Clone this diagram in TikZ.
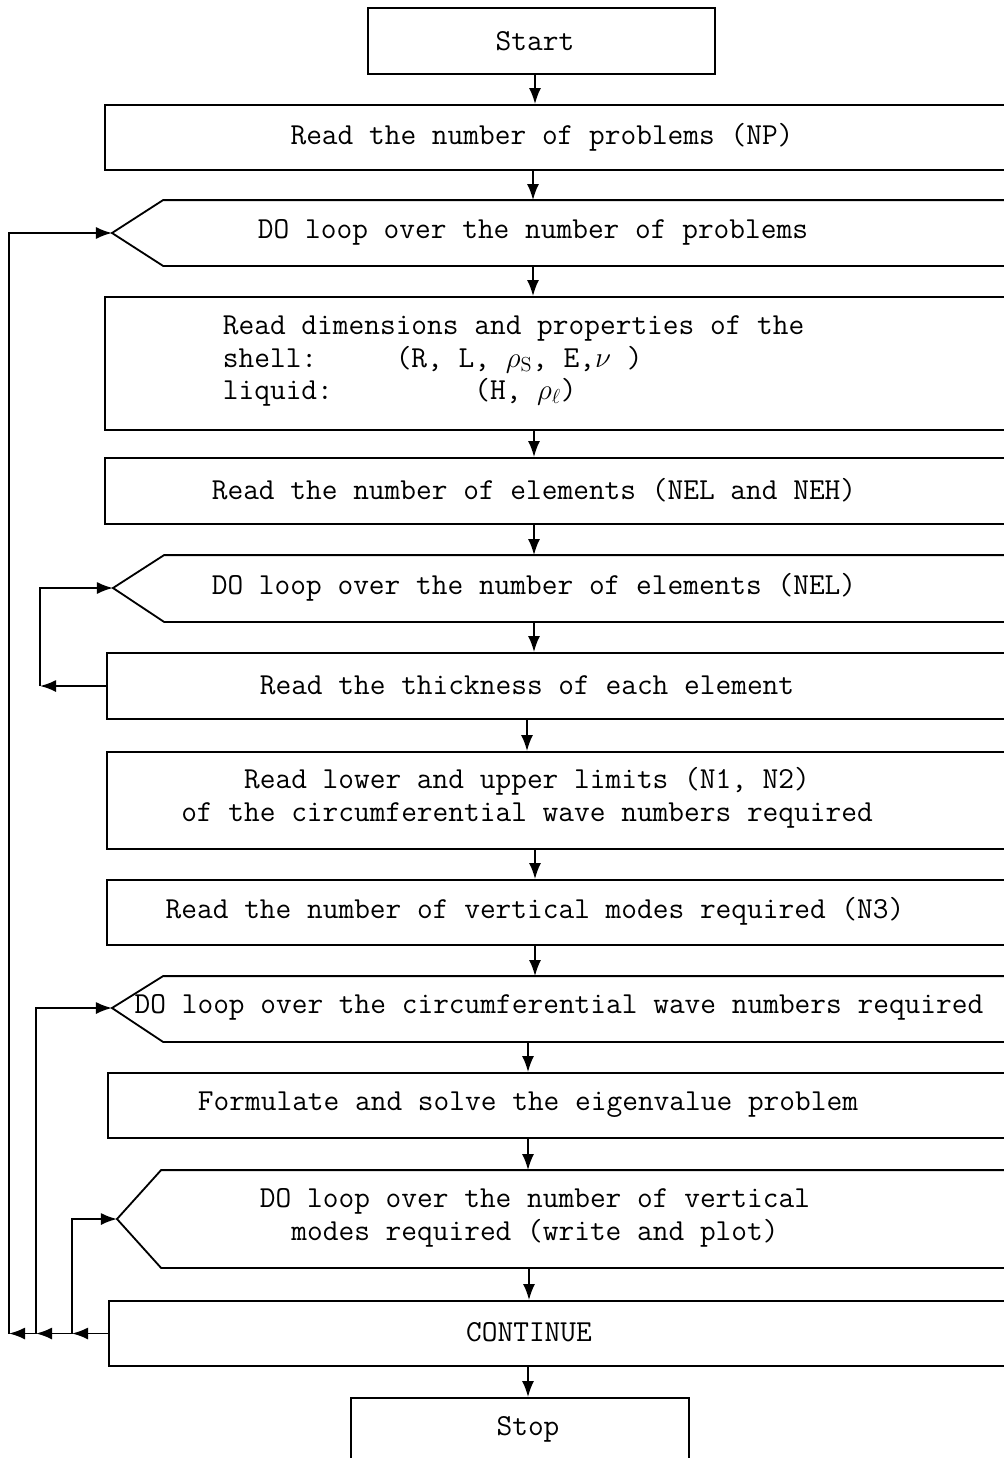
\documentclass[tikz,border=0pt]{standalone}
\usepackage{amsmath,amssymb}
\usetikzlibrary{arrows.meta,fit}

\begin{document}
\begin{tikzpicture}[x=0.025cm,y=-0.025cm,line width=1.3pt,
  >={Latex[length=4mm,width=3mm]},
  every node/.style={font=\fontsize{21.7}{23.1}\selectfont\ttfamily},
  frame/.style={draw,inner sep=0pt},
  area/.style={inner sep=0pt},
  txt/.style={inner sep=0pt,align=center}]
\useasboundingbox (0,0) rectangle (1004,1458);
\clip (0,0) rectangle (1004,1458);
% boxes
\node[frame,fit={(368,8) (715,74)}] (start) {};
\node[frame,fit={(105,105) (1040,170)}] (np) {};
\node[area,fit={(164,201) (1040,265)}] (do1) {};
\coordinate (do1tip) at (112,233);
\draw (do1.north east) -- (do1.north west) -- (do1tip) -- (do1.south west) -- (do1.south east);
\node[frame,fit={(105,297) (1040,430)}] (dims) {};
\node[frame,fit={(105,458) (1040,524)}] (nel) {};
\node[area,fit={(165,556) (1040,621)}] (do2) {};
\coordinate (do2tip) at (113,588);
\draw (do2.north east) -- (do2.north west) -- (do2tip) -- (do2.south west) -- (do2.south east);
\node[frame,fit={(107,653) (1040,719)}] (thick) {};
\node[frame,fit={(107,752) (1040,849)}] (lim) {};
\node[frame,fit={(107,880) (1040,945)}] (nthree) {};
\node[area,fit={(164,977) (1040,1041)}] (do3) {};
\coordinate (do3tip) at (112,1008);
\draw (do3.north east) -- (do3.north west) -- (do3tip) -- (do3.south west) -- (do3.south east);
\node[frame,fit={(108,1073) (1040,1138)}] (form) {};
\node[area,fit={(162,1171) (1040,1267)}] (do4) {};
\coordinate (do4tip) at (117,1219);
\draw (do4.north east) -- (do4.north west) -- (do4tip) -- (do4.south west) -- (do4.south east);
\node[frame,fit={(109,1301) (1040,1366)}] (cont) {};
\node[frame,fit={(351,1398) (689,1480)}] (stop) {};
% texts
\node[txt] (start-t) at (535,41) {Start};
\node[txt] (np-t) at (542,137) {Read the number of problems (NP)};
\node[txt] (do1-t) at (533,232) {DO loop over the number of problems};
\node[txt,anchor=west,align=left] (dims-t) at (222,361) {Read dimensions and properties of the\\
shell:\ \ \ \ \ (R, L, $\rho_{\mathrm{S}}$, E,$\nu$ )\\
liquid:\ \ \ \ \ \ \ \ \ (H, $\rho_\ell$)};
\node[txt] (nel-t) at (534,490) {Read the number of elements (NEL and NEH)};
\node[txt] (do2-t) at (534,587) {DO loop over the number of elements (NEL)};
\node[txt] (thick-t) at (527,685) {Read the thickness of each element};
\node[txt] (lim-t) at (527,798) {Read lower and upper limits (N1, N2)\\of the circumferential wave numbers required};
\node[txt] (nthree-t) at (535,911) {Read the number of vertical modes required (N3)};
\node[txt] (do3-t) at (559,1007) {DO loop over the circumferential wave numbers required};
\node[txt] (form-t) at (528,1105) {Formulate and solve the eigenvalue problem};
\node[txt] (do4-t) at (535,1218) {DO loop over the number of vertical\\modes required (write and plot)};
\node[txt] (cont-t) at (529,1332) {CONTINUE};
\node[txt] (stop-t) at (528,1429) {Stop};
% main flow
\draw[->] (start-t |- start.south) -- (start-t |- np.north);
\draw[->] (do1-t |- np.south) -- (do1-t |- do1.north);
\draw[->] (do1-t |- do1.south) -- (do1-t |- dims.north);
\draw[->] (nel-t |- dims.south) -- (nel-t |- nel.north);
\draw[->] (nel-t |- nel.south) -- (nel-t |- do2.north);
\draw[->] (do2-t |- do2.south) -- (do2-t |- thick.north);
\draw[->] (thick-t |- thick.south) -- (thick-t |- lim.north);
\draw[->] (nthree-t |- lim.south) -- (nthree-t |- nthree.north);
\draw[->] (nthree-t |- nthree.south) -- (nthree-t |- do3.north);
\draw[->] (form-t |- do3.south) -- (form-t |- form.north);
\draw[->] (form-t |- form.south) -- (form-t |- do4.north);
\draw[->] (cont-t |- do4.south) -- (cont-t |- cont.north);
\draw[->] (stop-t |- cont.south) -- (stop-t |- stop.north);
% loop returns
\coordinate (ret2) at (40,0 |- thick.west);
\draw[->] (thick.west) -- (ret2);
\draw[->] (ret2) |- (do2tip);
\coordinate (ret4) at (72,0 |- cont.west);
\coordinate (ret3) at (36,0 |- cont.west);
\coordinate (ret1) at (9,0 |- cont.west);
\draw[->] (cont.west) -- (ret4);
\draw[->] (ret4) -- (ret3);
\draw[->] (ret3) -- (ret1);
\draw[->] (ret4) |- (do4tip);
\draw[->] (ret3) |- (do3tip);
\draw[->] (ret1) |- (do1tip);
\end{tikzpicture}
\end{document}
